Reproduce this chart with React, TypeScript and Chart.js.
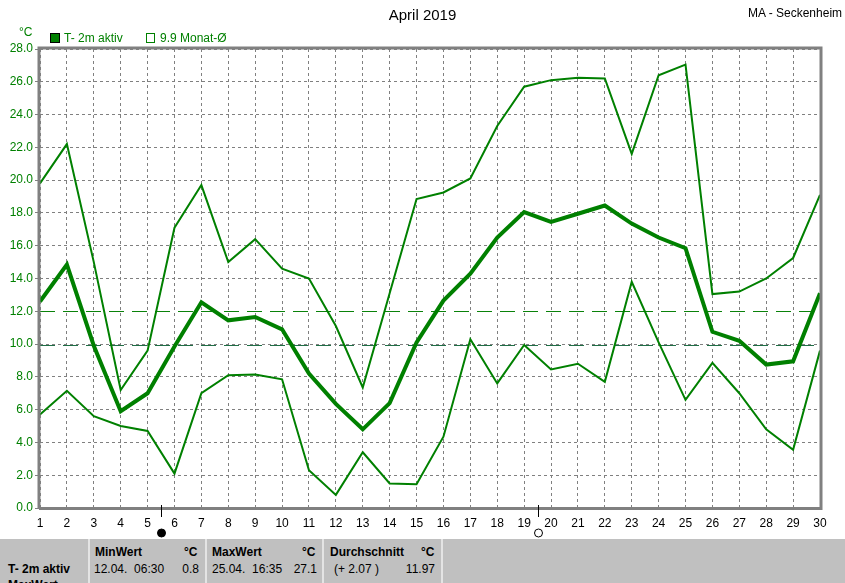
import React, { useEffect, useRef } from "react";
import { Chart, registerables } from "chart.js";
Chart.register(...registerables);

const dayLabels = ["1","2","3","4","5","6","7","8","9","10","11","12","13","14","15","16","17","18","19","20","21","22","23","24","25","26","27","28","29","30"];
const maxTemp = [19.8,22.2,15.0,7.2,9.6,17.1,19.7,15.0,16.4,14.6,14.0,11.1,7.35,13.1,18.85,19.25,20.1,23.3,25.7,26.1,26.25,26.2,21.6,26.4,27.05,13.05,13.2,14.0,15.25,19.1];
const meanTemp = [12.6,14.85,9.9,5.9,7.0,9.85,12.55,11.45,11.65,10.9,8.2,6.35,4.8,6.4,10.1,12.65,14.3,16.5,18.05,17.45,17.95,18.45,17.35,16.5,15.85,10.75,10.2,8.75,8.95,13.1];
const minTemp = [5.7,7.15,5.6,5.0,4.7,2.1,7.0,8.1,8.15,7.85,2.3,0.8,3.4,1.5,1.45,4.35,10.3,7.6,9.95,8.45,8.8,7.7,13.8,10.1,6.6,8.85,7.0,4.8,3.55,9.6];
const refLine12 = 12.0;
const monthAvg = 9.9;
const moonNew = 4.5;   // index position (between day 5 and 6)
const moonFull = 18.5; // between day 19 and 20

const FONT = "'Liberation Sans', Arial, sans-serif";
const GREEN = "#008000";

const align = (p: number) => Math.round(p - 0.5) + 0.5;

const overlayPlugin = {
  id: "overlay",
  beforeDatasetsDraw(chart: any) {
    const { ctx, chartArea: a, scales } = chart;
    const y = scales.y;
    ctx.save();
    ctx.lineWidth = 1;
    ctx.setLineDash([15, 8]);
    ctx.strokeStyle = "#0a820a";
    let p = align(y.getPixelForValue(refLine12));
    ctx.beginPath(); ctx.moveTo(a.left, p); ctx.lineTo(a.right, p); ctx.stroke();
    ctx.strokeStyle = "#1f6e46";
    p = align(y.getPixelForValue(monthAvg));
    ctx.beginPath(); ctx.moveTo(a.left, p); ctx.lineTo(a.right, p); ctx.stroke();
    ctx.restore();
  },
  afterDraw(chart: any) {
    const { ctx, chartArea: a, scales } = chart;
    ctx.save();
    ctx.strokeStyle = "#808080";
    ctx.lineWidth = 3;
    ctx.setLineDash([]);
    ctx.beginPath();
    ctx.moveTo(a.left - 1, a.bottom + 0.5);
    ctx.lineTo(a.left - 1, a.top - 1);
    ctx.lineTo(a.right + 1, a.top - 1);
    ctx.lineTo(a.right + 1, a.bottom + 0.5);
    ctx.lineTo(a.left - 1, a.bottom + 0.5);
    ctx.stroke();
    const x = scales.x;
    const drawMoon = (idx: number, filled: boolean) => {
      const px = Math.round(x.getPixelForValue(idx)) + 0.5;
      ctx.strokeStyle = "#000";
      ctx.lineWidth = 1;
      ctx.beginPath();
      ctx.moveTo(px, a.bottom - 3);
      ctx.lineTo(px, a.bottom + 9);
      ctx.stroke();
      ctx.beginPath();
      ctx.arc(px, a.bottom + 25, 4, 0, Math.PI * 2);
      if (filled) { ctx.fillStyle = "#000"; ctx.fill(); }
      ctx.stroke();
    };
    drawMoon(moonNew, true);
    drawMoon(moonFull, false);
    ctx.restore();
  },
};

function ChartCanvas() {
  const ref = useRef<HTMLCanvasElement>(null);
  useEffect(() => {
    const chart = new Chart(ref.current!, {
      type: "line",
      data: {
        labels: dayLabels,
        datasets: [
          { label: "max", data: maxTemp, borderColor: GREEN, borderWidth: 2, pointRadius: 0, tension: 0 },
          { label: "mean", data: meanTemp, borderColor: GREEN, borderWidth: 4, pointRadius: 0, tension: 0 },
          { label: "min", data: minTemp, borderColor: GREEN, borderWidth: 2, pointRadius: 0, tension: 0 },
        ],
      },
      options: {
        responsive: false,
        animation: false,
        events: [],
        layout: { padding: { left: 0, top: 49, right: 25, bottom: 0 } },
        plugins: { legend: { display: false }, title: { display: false }, tooltip: { enabled: false } },
        scales: {
          x: {
            type: "category",
            offset: false,
            grid: { color: "#808080", lineWidth: 1, drawTicks: false, tickLength: 0 },
            border: { display: false, dash: [3, 3] },
            ticks: { color: "#000", font: { family: FONT, size: 12 }, padding: 8, autoSkip: false, maxRotation: 0 },
            afterFit: (s: any) => { s.height = 75; },
          },
          y: {
            min: 0,
            max: 28,
            grid: {
              color: (c: any) => (c.tick && c.tick.value === refLine12 ? "rgba(0,0,0,0)" : "#808080"),
              lineWidth: 1,
              drawTicks: true,
              tickLength: 5,
              tickColor: "#808080",
            },
            border: { display: false, dash: [3, 3] },
            ticks: {
              stepSize: 2,
              color: GREEN,
              font: { family: FONT, size: 12 },
              padding: 2,
              callback: (v: any) => Number(v).toFixed(1),
            },
            afterFit: (s: any) => { s.width = 40; },
          },
        },
      },
      plugins: [overlayPlugin],
    } as any);
    return () => chart.destroy();
  }, []);
  return <canvas ref={ref} width={845} height={583} style={{ position: "absolute", left: 0, top: 0, width: 845, height: 583 }} />;
}

const txt = (s: React.CSSProperties): React.CSSProperties => ({
  position: "absolute",
  fontFamily: FONT,
  fontSize: 12,
  lineHeight: "14px",
  whiteSpace: "pre",
  ...s,
});

export default function App() {
  return (
    <div style={{ position: "absolute", left: 0, top: 0, width: 845, height: 583, overflow: "hidden", background: "#fff" }}>
      <ChartCanvas />
      <div style={txt({ left: 0, width: 845, textAlign: "center", top: 6, fontSize: 15, lineHeight: "18px", color: "#000" })}>April 2019</div>
      <div style={txt({ left: 748, top: 6, color: "#000" })}>MA - Seckenheim</div>
      <div style={txt({ left: 19, top: 25, color: GREEN })}>°C</div>
      <div style={{ position: "absolute", left: 50, top: 33, width: 8, height: 8, background: GREEN, border: "1px solid #000" }} />
      <div style={txt({ left: 64, top: 31, color: GREEN })}>T- 2m aktiv</div>
      <div style={{ position: "absolute", left: 146, top: 33, width: 7, height: 8, border: "1px solid " + GREEN }} />
      <div style={txt({ left: 160, top: 31, color: GREEN })}>9.9 Monat-Ø</div>
      <div style={{ position: "absolute", left: 0, top: 539, width: 845, height: 44, background: "#c0c0c0" }} />
      {[88, 205, 322, 441].map((x) => (
        <div key={x} style={{ position: "absolute", left: x, top: 539, width: 2, height: 44, background: "#e4e4e4" }} />
      ))}
      <div style={txt({ left: 8, top: 562, fontWeight: "bold" })}>T- 2m aktiv</div>
      <div style={txt({ left: 8, top: 578, fontWeight: "bold" })}>MaxWert</div>
      <div style={txt({ left: 95, top: 545, fontWeight: "bold" })}>MinWert</div>
      <div style={txt({ left: 184, top: 545, fontWeight: "bold" })}>°C</div>
      <div style={txt({ left: 94, top: 562 })}>12.04.  06:30</div>
      <div style={txt({ left: 182, top: 562, width: 17, textAlign: "right" })}>0.8</div>
      <div style={txt({ left: 212, top: 545, fontWeight: "bold" })}>MaxWert</div>
      <div style={txt({ left: 302, top: 545, fontWeight: "bold" })}>°C</div>
      <div style={txt({ left: 212, top: 562 })}>25.04.  16:35</div>
      <div style={txt({ left: 290, top: 562, width: 27, textAlign: "right" })}>27.1</div>
      <div style={txt({ left: 330, top: 545, fontWeight: "bold" })}>Durchschnitt</div>
      <div style={txt({ left: 421, top: 545, fontWeight: "bold" })}>°C</div>
      <div style={txt({ left: 334, top: 562 })}>(+ 2.07 )</div>
      <div style={txt({ left: 400, top: 562, width: 35, textAlign: "right" })}>11.97</div>
    </div>
  );
}
